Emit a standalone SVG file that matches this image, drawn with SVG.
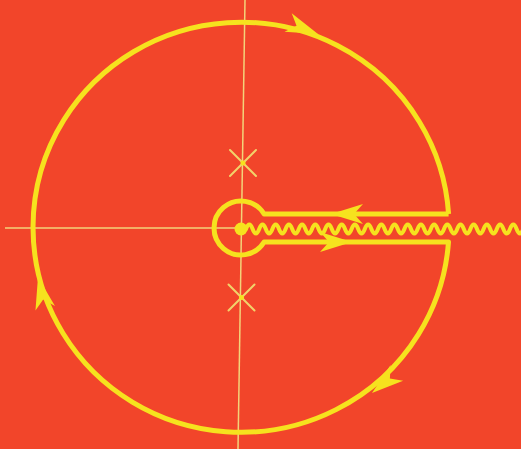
<svg xmlns="http://www.w3.org/2000/svg" width="521" height="449" viewBox="0 0 521 449">
<style>
.thin{stroke:#f3d37a;stroke-width:1.5;fill:none}
.cross{stroke:#f2d36a;stroke-width:2;fill:none;stroke-linecap:round}
.contour{stroke:#f6e21e;stroke-width:5;fill:none;stroke-linejoin:round}
.wave{stroke:#f6e21e;stroke-width:4;fill:none;stroke-linecap:round}
.ah{fill:#f6e21e}
</style>
<defs>
<path id="head" d="M0,0 L-32,-10 L-23,0 L-32,10 Z"/>
</defs>
<rect width="521" height="449" fill="#f2452a"/>
<g id="axes">
<line class="thin" x1="245" y1="0" x2="238" y2="449"/>
<line class="thin" x1="5" y1="228" x2="241" y2="228"/>
</g>
<g id="pole-upper">
<line class="cross" x1="230" y1="150" x2="256" y2="176"/>
<line class="cross" x1="230" y1="176" x2="256" y2="150"/>
<circle cx="243" cy="163" r="2.5" fill="#f6e21e"/>
</g>
<g id="pole-lower">
<line class="cross" x1="228.5" y1="284.5" x2="254.5" y2="310.5"/>
<line class="cross" x1="228.5" y1="310.5" x2="254.5" y2="284.5"/>
<circle cx="241.5" cy="297.5" r="2.5" fill="#f6e21e"/>
</g>
<g id="branch-cut">
<circle cx="241" cy="229" r="6.5" fill="#f6e21e"/>
<path class="wave" d="M246,229 q3.3,-9 6.6,0 t6.6,0 t6.6,0 t6.6,0 t6.6,0 t6.6,0 t6.6,0 t6.6,0 t6.6,0 t6.6,0 t6.6,0 t6.6,0 t6.6,0 t6.6,0 t6.6,0 t6.6,0 t6.6,0 t6.6,0 t6.6,0 t6.6,0 t6.6,0 t6.6,0 t6.6,0 t6.6,0 t6.6,0 t6.6,0 t6.6,0 t6.6,0 t6.6,0 t6.6,0 t6.6,0 t6.6,0 t6.6,0 t6.6,0 t6.6,0 t6.6,0 t6.6,0 t6.6,0 t6.6,0 t6.6,0 t6.6,0 t6.6,0"/>
</g>
<g id="contour">
<path class="contour" d="M448.6,214 L264.1,214 A27,27 0 1 0 264.1,242 L448.5,242 A208,205 0 1 1 448.6,214"/>
</g>
<g id="arrows">
<use href="#head" class="ah" transform="translate(318,34) rotate(21)"/>
<use href="#head" class="ah" transform="translate(372,393) rotate(141)"/>
<use href="#head" class="ah" transform="translate(38,277) rotate(-103)"/>
<use href="#head" class="ah" transform="translate(331,214) rotate(180)"/>
<use href="#head" class="ah" transform="translate(352,242)"/>
</g>
</svg>
